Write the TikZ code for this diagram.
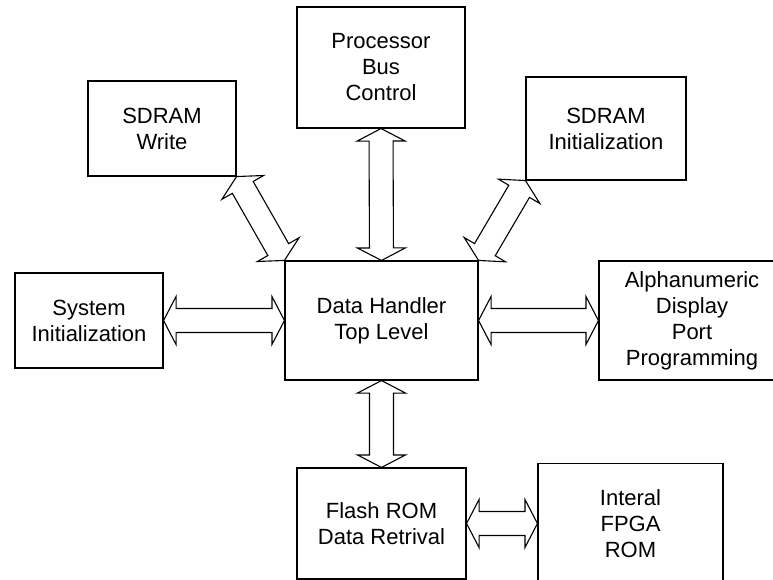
\documentclass[tikz,border=0pt]{standalone}
\usepackage{fontspec}
\setmainfont{Liberation Sans}
\usetikzlibrary{calc}
\tikzset{
  blk/.style={draw, line width=1.1pt, inner sep=0pt, align=center,
    font=\fontsize{22}{26}\selectfont},
  busline/.style={draw, line width=1.1pt, line join=miter},
}
% hollow double-headed bus arrow between two points
\newcommand\busarrow[2]{%
  \coordinate (bA) at (#1);
  \coordinate (bB) at (#2);
  \coordinate (hA) at ($(bA)!12.5pt!(bB)$);
  \coordinate (hB) at ($(bB)!12.5pt!(bA)$);
  \path[busline] (bA) -- ($(hA)!24pt!90:(bB)$) -- ($(hA)!12pt!90:(bB)$)
    -- ($(hB)!12pt!-90:(bA)$) -- ($(hB)!24pt!-90:(bA)$) -- (bB)
    -- ($(hB)!24pt!90:(bA)$) -- ($(hB)!12pt!90:(bA)$)
    -- ($(hA)!12pt!-90:(bB)$) -- ($(hA)!24pt!-90:(bB)$) -- cycle;
}
\begin{document}
\begin{tikzpicture}[x=1pt, y=-1pt]
  \useasboundingbox (0,0) rectangle (773,580);

  \node[blk, minimum width=148pt, minimum height=95pt]  (sdw)   at (162,128.5) {SDRAM\\Write};
  \node[blk, minimum width=168pt, minimum height=121pt] (pbc)   at (381,67.5)  {Processor\\Bus\\Control};
  \node[blk, minimum width=160pt, minimum height=103pt] (sdi)   at (606,128.5) {SDRAM\\Initialization};
  \node[blk, minimum width=148pt, minimum height=95pt]  (sys)   at (89,320.5)  {System\\Initialization};
  \node[blk, minimum width=193pt, minimum height=119pt] (dh)    at (381.5,320.5) {Data Handler\\Top Level};
  \node[blk, minimum width=186pt, minimum height=119pt] (alpha) at (692,320.5) {Alphanumeric\\Display\\Port\\Programming};
  \node[blk, minimum width=169pt, minimum height=111pt] (flash) at (381.5,523.5) {Flash ROM\\Data Retrival};
  \node[blk, minimum width=185pt, minimum height=120pt] (fpga)  at (630.5,523.5) {Interal\\FPGA\\ROM};

  \busarrow{pbc.south}{dh.north}
  \busarrow{dh.south}{flash.north}
  \busarrow{sys.east}{dh.west}
  \busarrow{dh.east}{alpha.west}
  \busarrow{flash.east}{fpga.west}
  \busarrow{sdw.south east}{dh.north west}
  \busarrow{sdi.south west}{dh.north east}
\end{tikzpicture}
\end{document}
